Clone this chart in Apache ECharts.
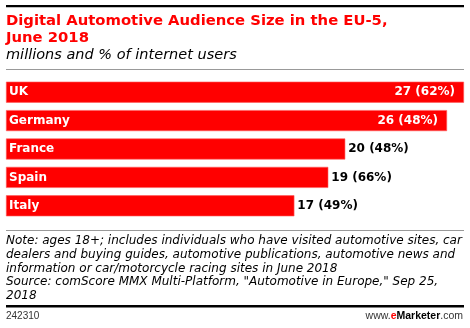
<!DOCTYPE html>
<html>
<head>
<meta charset="utf-8">
<script src="https://cdn.jsdelivr.net/npm/echarts@6/dist/echarts.min.js"></script>
<style>
  html, body { margin: 0; padding: 0; background: #fff; }
  #chart { width: 470px; height: 328px; }
</style>
</head>
<body>
<div id="chart"></div>
<script>
// Audience size by country, millions of users
const countries = ['UK', 'Germany', 'France', 'Spain', 'Italy'];
const audience = [27, 26, 20, 19, 17];
// Share of internet users, %
const shareOfUsers = [62, 48, 48, 66, 49];

const RED = '#ff0000';
const LABEL_FONT = 'DejaVu Sans';

const chart = echarts.init(document.getElementById('chart'), null, { renderer: 'canvas' });

// Long bars carry their value inside the bar end, short ones just past it
const valueData = audience.map((v, i) => {
  const inside = v >= 25;
  return {
    value: v,
    label: {
      position: inside ? 'insideRight' : 'right',
      color: inside ? '#fff' : '#000',
      distance: inside ? 9 : 3
    }
  };
});

const noteLines = [
  'Note: ages 18+; includes individuals who have visited automotive sites, car',
  'dealers and buying guides, automotive publications, automotive news and',
  'information or car/motorcycle racing sites in June 2018',
  'Source: comScore MMX Multi-Platform, "Automotive in Europe," Sep 25,',
  '2018'
];

chart.setOption({
  animation: false,
  grid: { left: 6, right: 6, top: 78, height: 142, containLabel: false },
  xAxis: {
    type: 'value', min: 0, max: 27,
    show: false
  },
  yAxis: {
    type: 'category', data: countries, inverse: true,
    show: false
  },
  series: [
    {
      type: 'bar',
      data: valueData,
      barCategoryGap: '26%',
      itemStyle: { color: RED, borderColor: '#ff5a5a', borderWidth: 0.6 },
      label: {
        show: true,
        fontFamily: LABEL_FONT, fontWeight: 'bold', fontSize: 12,
        formatter: p => audience[p.dataIndex] + ' (' + shareOfUsers[p.dataIndex] + '%)'
      },
      z: 2
    },
    {
      // transparent twin carrying the country names at the bar start
      type: 'bar',
      data: audience,
      barGap: '-100%',
      barCategoryGap: '26%',
      itemStyle: { color: 'rgba(0,0,0,0)' },
      label: {
        show: true, position: 'insideLeft', distance: 3,
        color: '#fff', fontFamily: LABEL_FONT, fontWeight: 'bold', fontSize: 12,
        formatter: p => countries[p.dataIndex]
      },
      silent: true,
      z: 3
    }
  ],
  graphic: [
    { type: 'rect', shape: { x: 6, y: 5, width: 458, height: 2.2 }, style: { fill: '#000' } },
    {
      type: 'text', left: 6, top: 13,
      style: {
        text: 'Digital Automotive Audience Size in the EU-5,\nJune 2018',
        fill: RED, font: 'bold 14.8px "DejaVu Sans"', lineHeight: 17
      }
    },
    {
      type: 'text', left: 6, top: 48,
      style: {
        text: 'millions and % of internet users',
        fill: '#000', font: 'italic 14.5px "DejaVu Sans"'
      }
    },
    { type: 'rect', shape: { x: 6, y: 69, width: 458, height: 1 }, style: { fill: '#999' } },
    { type: 'rect', shape: { x: 6, y: 230, width: 458, height: 1 }, style: { fill: '#999' } },
    {
      type: 'text', left: 6, top: 234,
      style: {
        text: noteLines.join('\n'),
        fill: '#000', font: 'italic 12px "DejaVu Sans"', lineHeight: 13.8
      }
    },
    { type: 'rect', shape: { x: 6, y: 305, width: 458, height: 2.4 }, style: { fill: '#000' } },
    {
      type: 'text', left: 6, top: 311,
      style: { text: '242310', fill: '#333', font: '10px "Liberation Sans"' }
    },
    {
      type: 'text', right: 7, top: 311,
      style: {
        text: '{a|www.}{e|e}{m|Marketer}{a|.com}',
        rich: {
          a: { fill: '#333', font: '10.5px "Liberation Sans"' },
          e: { fill: RED, font: 'bold 10.5px "Liberation Sans"' },
          m: { fill: '#000', font: 'bold 10.5px "Liberation Sans"' }
        }
      }
    }
  ]
});
</script>
</body>
</html>
